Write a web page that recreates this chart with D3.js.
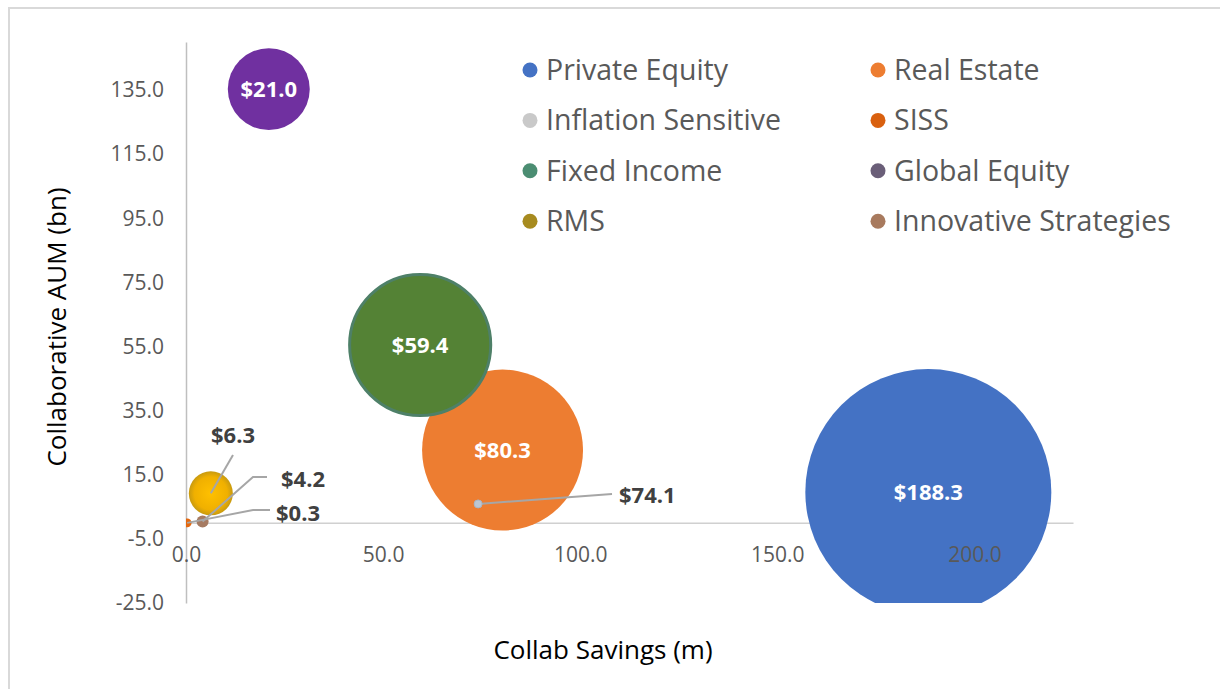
<!DOCTYPE html>
<html>
<head>
<meta charset="utf-8">
<script src="https://cdn.jsdelivr.net/npm/d3@7/dist/d3.min.js"></script>
<style>
  body { margin: 0; background: #fff; }
  svg { font-family: "Open Sans", "Noto Sans", sans-serif; }
</style>
</head>
<body>
<script>
// series names (legend order)
var names = ["Private Equity", "Real Estate", "Inflation Sensitive", "SISS",
             "Fixed Income", "Global Equity", "RMS", "Innovative Strategies"];
// Collab Savings (m)
var savings = [188.3, 80.3, 74.1, 0.3, 59.4, 21.0, 6.3, 4.2];
// Collaborative AUM (bn)
var aum = [9.6, 22.7, 5.9, 0.0, 55.5, 135.3, 9.2, 0.4];
// bubble size (relative)
var bubbleSize = [100, 42.8, 0.08, 0.13, 32.9, 11.1, 3.2, 0.24];
var yTicks = [-25, -5, 15, 35, 55, 75, 95, 115, 135];
var xTicks = [0, 50, 100, 150, 200];

var legendColors = ["#4472C4", "#ED7D31", "#C9C9C9", "#D9600F",
                    "#4B8D72", "#6A5E78", "#A78B1F", "#A87A5E"];
var bubbleColors = ["#4472C4", "#ED7D31", "#BCC6D2", "#E4680E",
                    "#548235", "#7030A0", "url(#rmsGrad)", "#A67B62"];

var w = 1220, h = 689;
var font = '"Open Sans", "Noto Sans", sans-serif';

var svg = d3.select("body").append("svg")
            .attr("width", w)
            .attr("height", h);

var defs = svg.append("defs");
var grad = defs.append("radialGradient").attr("id", "rmsGrad");
grad.append("stop").attr("offset", "0%").attr("stop-color", "#FFC000");
grad.append("stop").attr("offset", "75%").attr("stop-color", "#F0B000");
grad.append("stop").attr("offset", "100%").attr("stop-color", "#C89A10");

// chart frame
svg.append("rect")
   .attr("x", 9).attr("y", 8)
   .attr("width", 1240).attr("height", 700)
   .attr("fill", "none")
   .attr("stroke", "#D9D9D9")
   .attr("stroke-width", 2);

var xScale = d3.scaleLinear().domain([0, 225]).range([186, 1073]);
var yScale = d3.scaleLinear().domain([-25, 150]).range([603, 42]);
var rScale = d3.scaleSqrt().domain([0, d3.max(bubbleSize)]).range([0, 123]);

defs.append("clipPath").attr("id", "plotClip")
    .append("rect")
    .attr("x", xScale(0)).attr("y", yScale(150))
    .attr("width", xScale(225) - xScale(0))
    .attr("height", yScale(-25) - yScale(150));

var fmt = function(d) { return d.toFixed(1); };

var yAxis = d3.axisLeft(yScale)
              .tickValues(yTicks)
              .tickFormat(fmt)
              .tickSize(0)
              .tickPadding(22);
var xAxis = d3.axisBottom(xScale)
              .tickValues(xTicks)
              .tickFormat(fmt)
              .tickSize(0)
              .tickPadding(24);

// axis lines (behind the bubbles)
var gyLine = svg.append("g")
   .attr("transform", "translate(" + xScale(0) + ",0)")
   .call(yAxis);
gyLine.selectAll(".tick").remove();
gyLine.select(".domain").attr("stroke", "#BFBFBF").attr("stroke-width", 1.5);

var gxLine = svg.append("g")
   .attr("transform", "translate(0," + yScale(0) + ")")
   .call(xAxis);
gxLine.selectAll(".tick").remove();
gxLine.select(".domain").attr("stroke", "#D0D0D0").attr("stroke-width", 1.5);

// bubbles, biggest in the back
var data = names.map(function(n, i) {
  return { name: n, x: savings[i], y: aum[i], s: bubbleSize[i], fill: bubbleColors[i] };
});
var order = data.slice().sort(function(a, b) { return b.s - a.s; });

var gb = svg.append("g").attr("clip-path", "url(#plotClip)");
gb.selectAll("circle")
  .data(order)
  .enter()
  .append("circle")
  .attr("cx", function(d) { return xScale(d.x); })
  .attr("cy", function(d) { return yScale(d.y); })
  .attr("r", function(d) { return Math.max(rScale(d.s), 3.5); })
  .attr("fill", function(d) { return d.fill; })
  .attr("stroke", function(d) {
     if (d.name == "Fixed Income") return "#4E8068";
     if (d.name == "Inflation Sensitive") return "#A9B4C2";
     return "none";
  })
  .attr("stroke-width", function(d) { return d.name == "Fixed Income" ? 3 : 1; });

// tick labels on top of the bubbles
var gy = svg.append("g")
   .attr("transform", "translate(" + xScale(0) + ",0)")
   .call(yAxis);
gy.select(".domain").remove();
gy.attr("font-family", font);
gy.selectAll("text").attr("fill", "#595959").style("font-size", "21px");

var gx = svg.append("g")
   .attr("transform", "translate(0," + yScale(0) + ")")
   .call(xAxis);
gx.select(".domain").remove();
gx.attr("font-family", font);
gx.selectAll("text").attr("fill", "#595959").style("font-size", "21px");

// labels inside big bubbles
var inside = ["Private Equity", "Real Estate", "Fixed Income", "Global Equity"];
svg.selectAll("text.inlabel")
   .data(data.filter(function(d) { return inside.indexOf(d.name) >= 0; }))
   .enter()
   .append("text")
   .attr("class", "inlabel")
   .attr("x", function(d) { return xScale(d.x); })
   .attr("y", function(d) { return yScale(d.y); })
   .attr("dy", "0.35em")
   .attr("text-anchor", "middle")
   .attr("fill", "#FFFFFF")
   .style("font-size", "22px")
   .style("font-weight", "bold")
   .text(function(d) { return "$" + d.x.toFixed(1); });

// outside labels with leader lines
var callouts = {
  "RMS":                   { tx: 233, ty: 435, anchor: "middle", path: [[233, 455]] },
  "Innovative Strategies": { tx: 281, ty: 479, anchor: "start",  path: [[267, 477], [253, 477]] },
  "SISS":                  { tx: 276, ty: 513, anchor: "start",  path: [[270, 510], [253, 510]] },
  "Inflation Sensitive":   { tx: 619, ty: 495, anchor: "start",  path: [[612, 494]] }
};
data.forEach(function(d) {
  var c = callouts[d.name];
  if (!c) return;
  var pts = c.path.concat([[xScale(d.x), yScale(d.y)]]);
  svg.append("path")
     .attr("d", d3.line()(pts))
     .attr("fill", "none")
     .attr("stroke", "#A6A6A6")
     .attr("stroke-width", 2);
  svg.append("text")
     .attr("x", c.tx).attr("y", c.ty)
     .attr("dy", "0.35em")
     .attr("text-anchor", c.anchor)
     .attr("fill", "#404040")
     .style("font-size", "22px")
     .style("font-weight", "bold")
     .text("$" + d.x.toFixed(1));
});
// small point marker on the Inflation Sensitive dot
svg.append("circle")
   .attr("cx", xScale(savings[2])).attr("cy", yScale(aum[2]))
   .attr("r", 4).attr("fill", "#BCC6D2").attr("stroke", "#A9B4C2");

// legend, two columns
var legend = svg.append("g");
var items = legend.selectAll("g")
  .data(names)
  .enter()
  .append("g")
  .attr("transform", function(d, i) {
     return "translate(" + (i % 2 == 0 ? 530 : 878) + "," + (70 + Math.floor(i / 2) * 50.4) + ")";
  });
items.append("circle")
  .attr("r", 7.5)
  .attr("fill", function(d, i) { return legendColors[i]; });
items.append("text")
  .attr("x", 16)
  .attr("dy", "0.35em")
  .attr("fill", "#595959")
  .style("font-size", "28.5px")
  .text(function(d) { return d; });

// axis titles
svg.append("text")
   .attr("x", 603).attr("y", 650)
   .attr("dy", "0.35em")
   .attr("text-anchor", "middle")
   .attr("fill", "#000")
   .style("font-size", "26px")
   .text("Collab Savings (m)");

svg.append("text")
   .attr("transform", "translate(57,327) rotate(-90)")
   .attr("dy", "0.35em")
   .attr("text-anchor", "middle")
   .attr("fill", "#000")
   .style("font-size", "26px")
   .text("Collaborative AUM (bn)");
</script>
</body>
</html>
